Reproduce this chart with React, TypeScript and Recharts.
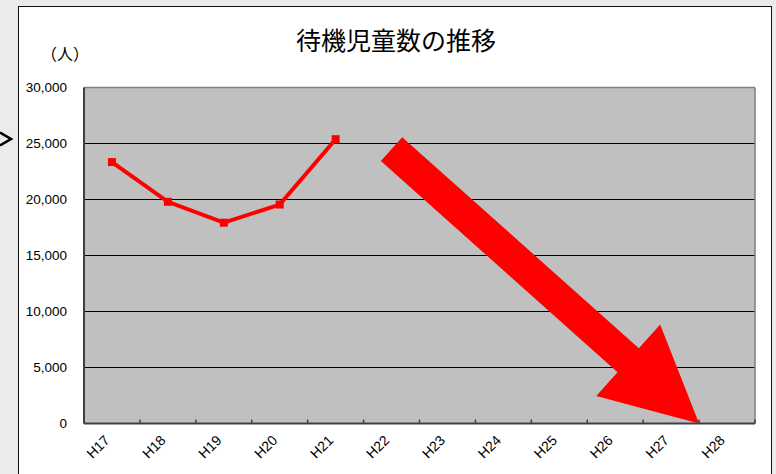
import React from 'react';
import { LineChart, Line, XAxis, YAxis, CartesianGrid, ReferenceLine } from 'recharts';

// 年度（平成）
const categories = ['H17', 'H18', 'H19', 'H20', 'H21', 'H22', 'H23', 'H24', 'H25', 'H26', 'H27', 'H28'];
// 待機児童数（人）H17〜H21
const waitingChildren = [23338, 19794, 17926, 19550, 25384];
const yTicks = [0, 5000, 10000, 15000, 20000, 25000, 30000];

// 減少目標の矢印（x は年度の位置、y は人数）
const arrowFrom = { x: 5.5, y: 24500 };
const arrowTo = { x: 11, y: 0 };

const data = waitingChildren.map((value, i) => ({ pos: i + 0.5, value }));
const xTicks = [...categories.flatMap((_, i) => [i, i + 0.5]), categories.length];

const LABEL_FONT = '"Liberation Sans", Arial, sans-serif';
const JP_FONT = '"Noto Sans CJK JP", sans-serif';

// 目盛線は区切り位置に内向き、ラベルは各年度の中央に斜め表示
const XTick = (props: any) => {
  const { x, y, payload } = props;
  const v = payload.value as number;
  if (Number.isInteger(v)) {
    return <line x1={x} y1={y} x2={x} y2={y - 4} stroke="#404040" strokeWidth={1.5} />;
  }
  return (
    <g style={{ transform: `translate(${x - 4}px, ${y + 15}px) rotate(-45deg)` }}>
      <text x={0} y={0} textAnchor="end" dominantBaseline="middle" fontSize={14} fontFamily={LABEL_FONT} fill="#000">
        {categories[Math.floor(v)]}
      </text>
    </g>
  );
};

// 太い赤矢印
const ArrowShape = (props: any) => {
  const { x1, y1, x2, y2 } = props;
  const dx = x2 - x1;
  const dy = y2 - y1;
  const len = Math.hypot(dx, dy);
  const ux = dx / len;
  const uy = dy / len;
  const nx = -uy;
  const ny = ux;
  const shaft = 16;
  const head = 48;
  const headLen = 95;
  const bx = x2 - ux * headLen;
  const by = y2 - uy * headLen;
  const pts = [
    [x1 + nx * shaft, y1 + ny * shaft],
    [bx + nx * shaft, by + ny * shaft],
    [bx + nx * head, by + ny * head],
    [x2, y2],
    [bx - nx * head, by - ny * head],
    [bx - nx * shaft, by - ny * shaft],
    [x1 - nx * shaft, y1 - ny * shaft],
  ]
    .map((p) => p.join(','))
    .join(' ');
  return <polygon points={pts} fill="#ff0000" />;
};

const Square = (props: any) => {
  const { cx, cy } = props;
  if (cx == null || cy == null) return null;
  return <rect x={cx - 4} y={cy - 4} width={8} height={8} fill="#ff0000" />;
};

export default function App() {
  return (
    <div style={{ position: 'absolute', left: 0, top: 0, width: 776, height: 474, background: '#ebebeb', overflow: 'hidden' }}>
      <div
        style={{
          position: 'absolute',
          left: 18,
          top: 6,
          width: 752,
          height: 480,
          background: '#fff',
          border: '1.5px solid #111',
        }}
      />
      {/* 左端の「>」記号 */}
      <svg style={{ position: 'absolute', left: 0, top: 0 }} width={18} height={160}>
        <polyline points="0,132.5 11,139 0,145.5" fill="none" stroke="#000" strokeWidth={2.6} />
      </svg>
      <div
        style={{
          position: 'absolute',
          left: 0,
          width: 792,
          top: 21,
          textAlign: 'center',
          fontFamily: JP_FONT,
          fontSize: 25,
          lineHeight: '36px',
          color: '#000',
        }}
      >
        待機児童数の推移
      </div>
      <div
        style={{
          position: 'absolute',
          left: 41,
          top: 41,
          fontFamily: JP_FONT,
          fontSize: 16,
          lineHeight: '24px',
          color: '#000',
        }}
      >
        （人）
      </div>
      <div style={{ position: 'absolute', left: 0, top: 0 }}>
        <LineChart width={776} height={474} data={data} margin={{ top: 87.5, right: 21, bottom: 0, left: 24 }}>
          <CartesianGrid vertical={false} fill="#c0c0c0" stroke="#000" strokeOpacity={1} />
          <XAxis
            type="number"
            dataKey="pos"
            domain={[0, categories.length]}
            ticks={xTicks}
            interval={0}
            height={50.5}
            tickSize={0}
            tickMargin={0}
            tickLine={false}
            axisLine={{ stroke: '#404040', strokeWidth: 2 }}
            tick={XTick}
            allowDataOverflow
          />
          <YAxis
            domain={[0, 30000]}
            ticks={yTicks}
            interval={0}
            width={60}
            tickSize={0}
            tickMargin={17}
            tickLine={false}
            axisLine={{ stroke: '#404040', strokeWidth: 2 }}
            tick={{ fill: '#000', fontSize: 13.5, fontFamily: LABEL_FONT }}
            tickFormatter={(v: number) => v.toLocaleString('en-US')}
          />
          <ReferenceLine y={30000} stroke="#808080" strokeWidth={1.5} />
          <ReferenceLine x={categories.length} stroke="#808080" strokeWidth={1.5} />
          <ReferenceLine segment={[arrowFrom, arrowTo]} shape={<ArrowShape />} />
          <Line
            type="linear"
            dataKey="value"
            stroke="#ff0000"
            strokeWidth={4}
            dot={<Square />}
            activeDot={false}
            isAnimationActive={false}
          />
        </LineChart>
      </div>
    </div>
  );
}
